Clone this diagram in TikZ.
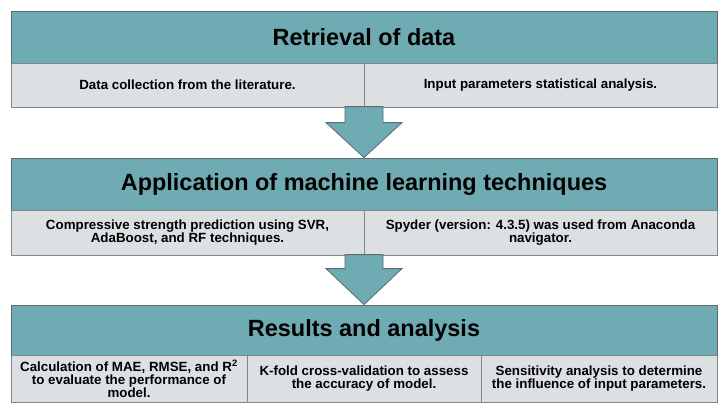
\documentclass[tikz,border=0pt]{standalone}
\usepackage{fontspec}
\setmainfont{Liberation Sans}
\usetikzlibrary{calc}

\definecolor{headteal}{RGB}{111,171,179}
\definecolor{cellgray}{RGB}{221,224,227}
\definecolor{edgegray}{RGB}{95,105,110}

\begin{document}
\begin{tikzpicture}[x=0.75pt,y=-0.75pt,
        header/.style={draw=edgegray,fill=headteal,line width=0.6pt,inner sep=0pt,
            minimum width=529.5pt,minimum height=39pt,font=\bfseries\fontsize{17.6}{20}\selectfont},
        cell/.style={draw=edgegray!80,fill=cellgray,line width=0.6pt,inner sep=0pt,align=center,
            minimum height=33pt,font=\bfseries\fontsize{10}{9.8}\selectfont},
        blockarrow/.style={draw=edgegray,fill=headteal,line width=0.6pt,line join=miter}]
    \useasboundingbox (0,0) rectangle (727,414);

    % first stage
    \node (h1) [header] at (364,37) {Retrieval of data};
    \node (d1a) [cell,minimum width=264.75pt] at (187.5,85) {Data collection from the literature.};
    \node (d1b) [cell,minimum width=264.75pt] at (540.5,85) {Input parameters statistical analysis.};

    % second stage
    \node (h2) [header] at (364,184) {Application of machine learning techniques};
    \node (d2a) [cell,minimum width=264.75pt,minimum height=33.75pt] at (187.5,232.5)
        {Compressive strength prediction using SVR,\\AdaBoost, and RF techniques.};
    \node (d2b) [cell,minimum width=264.75pt,minimum height=33.75pt] at (540.5,232.5)
        {Spyder (version: 4.3.5) was used from Anaconda\\navigator.};

    % third stage
    \node (h3) [header,minimum height=37.5pt] at (364,330) {Results and analysis};
    \node (d3a) [cell,minimum width=177pt,minimum height=35.25pt] at (129,378.5)
        {Calculation of MAE, RMSE, and R\textsuperscript{2}\\to evaluate the performance of\\model.};
    \node (d3b) [cell,minimum width=175.5pt,minimum height=35.25pt] at (364,378.5)
        {K-fold cross-validation to assess\\the accuracy of model.};
    \node (d3c) [cell,minimum width=177pt,minimum height=35.25pt] at (599,378.5)
        {Sensitivity analysis to determine\\the influence of input parameters.};

    % arrows between stages
    \draw [blockarrow] (h2.north) -- ++(-38,-35) -- ++(19,0) -- ++(0,-16)
        -- ++(38,0) -- ++(0,16) -- ++(19,0) -- cycle;
    \draw [blockarrow] (h3.north) -- ++(-38,-36) -- ++(19,0) -- ++(0,-14)
        -- ++(38,0) -- ++(0,14) -- ++(19,0) -- cycle;
\end{tikzpicture}
\end{document}
